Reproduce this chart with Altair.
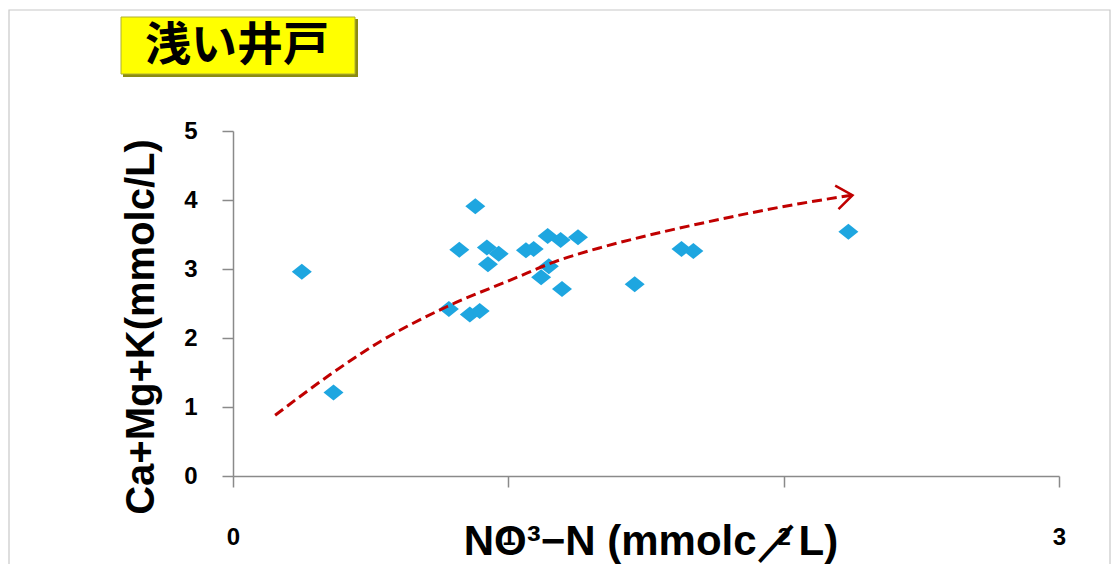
import altair as alt
import pandas as pd

# Scatter data: NO3-N vs Ca+Mg+K (shallow wells)
no3_n = [0.25, 0.365, 0.784, 0.822, 0.86, 0.88, 0.896, 0.922, 0.926, 0.965,
         1.064, 1.092, 1.119, 1.143, 1.147, 1.19, 1.195, 1.253, 1.459,
         1.629, 1.672, 2.235]
cations = [2.96, 1.21, 2.42, 3.28, 2.34, 3.91, 2.39, 3.31, 3.07, 3.22,
           3.27, 3.29, 2.88, 3.48, 3.04, 3.42, 2.71, 3.46, 2.78,
           3.29, 3.26, 3.54]

# Hand-drawn trend arrow (dashed red curve)
trend_x = [0.153, 0.353, 0.535, 0.78, 1.02, 1.165, 1.335, 1.48, 1.698, 2.062, 2.25]
trend_y = [0.88, 1.47, 1.95, 2.46, 2.86, 3.10, 3.31, 3.46, 3.66, 3.95, 4.07]

x_ticks = [0, 1, 2, 3]
y_ticks = [0, 1, 2, 3, 4, 5]

title_text = "浅い井戸"
x_title = "NO³−N (mmolc／L)"
y_title = "Ca+Mg+K(mmolc/L)"

FONT = "Liberation Sans, Arial, sans-serif"

pts = pd.DataFrame({"x": no3_n, "y": cations})
trend = pd.DataFrame({"x": trend_x, "y": trend_y, "o": list(range(len(trend_x)))})
tip = pd.DataFrame({"x": [trend_x[-1]], "y": [trend_y[-1]]})
one = pd.DataFrame({"a": [0]})

xs = alt.Scale(domain=[0, 3], nice=False, zero=True)
ys = alt.Scale(domain=[0, 5], nice=False, zero=True)

x_axis = alt.Axis(values=x_ticks, format="d", title=None, grid=False, domainColor="#8a8a8a",
                  domainWidth=1.5, tickColor="#8a8a8a", tickWidth=1.5, tickSize=11,
                  labelFont=FONT, labelFontSize=24, labelFontWeight="bold",
                  labelColor="#000000", labelPadding=38, labelFlush=False)
y_axis = alt.Axis(values=y_ticks, format="d", title=None, grid=False, domainColor="#8a8a8a",
                  domainWidth=1.5, tickColor="#8a8a8a", tickWidth=1.5, tickSize=11,
                  labelFont=FONT, labelFontSize=24, labelFontWeight="bold",
                  labelColor="#000000", labelPadding=25, labelFlush=False)

frame = alt.Chart(one).mark_rect(fill=None, stroke="#c8c8c8", strokeWidth=1.2).encode(
    x=alt.value(-224), x2=alt.value(877), y=alt.value(-121), y2=alt.value(600))

scatter = alt.Chart(pts).mark_point(
    shape="M-1,0L0,-0.8L1,0L0,0.8Z", filled=True, fill="#1ea6e0", opacity=1,
    size=400, strokeWidth=0).encode(
    x=alt.X("x:Q", scale=xs, axis=x_axis),
    y=alt.Y("y:Q", scale=ys, axis=y_axis))

curve = alt.Chart(trend).mark_line(
    color="#c00000", strokeWidth=3, strokeDash=[10, 5], interpolate="monotone").encode(
    x=alt.X("x:Q", scale=xs), y=alt.Y("y:Q", scale=ys), order="o:O")

arrow = alt.Chart(tip).mark_point(
    shape="M-1,-0.75L0,0L-1,0.75", filled=False, stroke="#c00000", strokeWidth=2.5,
    size=1000, angle=352, opacity=1).encode(
    x=alt.X("x:Q", scale=xs), y=alt.Y("y:Q", scale=ys))

box_shadow = alt.Chart(one).mark_rect(fill="#8c8c10").encode(
    x=alt.value(-110), x2=alt.value(125), y=alt.value(-112), y2=alt.value(-54))
box = alt.Chart(one).mark_rect(fill="#ffff00", stroke="#b0b030", strokeWidth=1).encode(
    x=alt.value(-112), x2=alt.value(122), y=alt.value(-114), y2=alt.value(-57))
box_text = alt.Chart(one).mark_text(
    font="Noto Sans CJK JP", fontSize=46, fontWeight="bold", color="#000000",
    align="center", baseline="middle").encode(
    x=alt.value(4), y=alt.value(-85), text=alt.value(title_text))

xt = alt.Chart(one).mark_text(
    font=FONT, fontSize=42, fontWeight="bold", color="#000000",
    align="center", baseline="alphabetic").encode(
    x=alt.value(418), y=alt.value(424), text=alt.value(x_title))

yt = alt.Chart(one).mark_text(
    font=FONT, fontSize=40, fontWeight="bold", color="#000000",
    align="center", baseline="middle", angle=270).encode(
    x=alt.value(-91), y=alt.value(196), text=alt.value(y_title))

chart = alt.layer(frame, scatter, curve, arrow, box_shadow, box, box_text, xt, yt).properties(
    width=826, height=345,
    autosize=alt.AutoSizeParams(type="none"),
    padding={"left": 225, "top": 123, "right": 52, "bottom": 88},
    background="#ffffff",
).configure_view(stroke=None)

chart.save("out.html", embed_options={"renderer": "svg", "actions": False})
